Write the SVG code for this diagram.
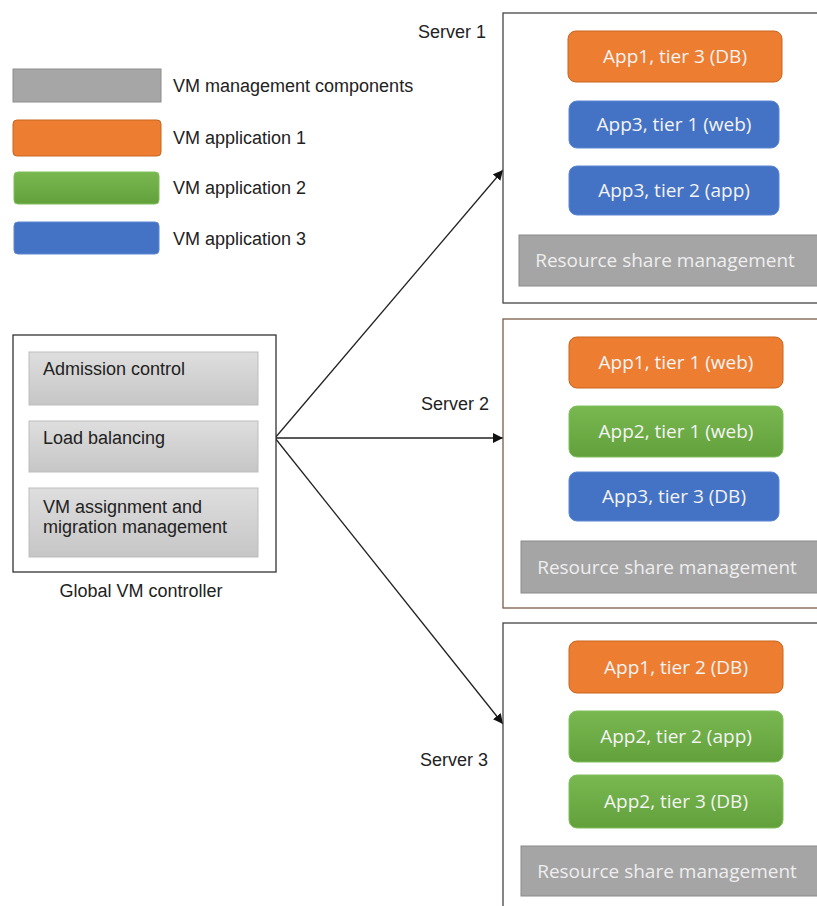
<svg xmlns="http://www.w3.org/2000/svg" width="817" height="906" viewBox="0 0 817 906">
  <style>
    .lbl { font-family: "Liberation Sans", Arial, sans-serif; font-size: 18px; fill: #222; }
    .app { font-family: "Open Sans", "Noto Sans", sans-serif; font-size: 19px; fill: #f4f4f4; text-anchor: middle; }
    .res { font-family: "Open Sans", "Noto Sans", sans-serif; font-size: 19px; fill: #eeeeee; text-anchor: middle; }
    .server { fill: #ffffff; stroke: #444444; stroke-width: 1.3; }
    .o { fill: #ed7d31; stroke: #c9641f; stroke-width: 1; }
    .b { fill: #4472c4; stroke: #5a86d2; stroke-width: 1; }
    .g { fill: url(#greenGrad); stroke: #7fbf5a; stroke-width: 1; }
    .gray { fill: #a5a5a5; stroke: #8a8a8a; stroke-width: 1; }
    .ctl { fill: url(#ctlGrad); stroke: #bdbdbd; stroke-width: 1; }
    .conn { stroke: #222; stroke-width: 1.3; fill: none; marker-end: url(#arrow); }
  </style>
  <defs>
    <linearGradient id="greenGrad" x1="0" y1="0" x2="0" y2="1">
      <stop offset="0" stop-color="#79b851"/>
      <stop offset="1" stop-color="#62a03b"/>
    </linearGradient>
    <linearGradient id="ctlGrad" x1="0" y1="0" x2="0" y2="1">
      <stop offset="0" stop-color="#dedede"/>
      <stop offset="1" stop-color="#c6c6c6"/>
    </linearGradient>
    <marker id="arrow" viewBox="0 0 10 10" refX="10" refY="5" markerWidth="10" markerHeight="10" markerUnits="userSpaceOnUse" orient="auto">
      <path d="M0,0 L10,5 L0,10 z" fill="#111"/>
    </marker>
  </defs>

  <rect width="817" height="906" fill="#ffffff"/>

  <!-- Legend -->
  <g id="legend">
    <rect x="13" y="69" width="148" height="33" fill="#a6a6a6" stroke="#8c8c8c"/>
    <text class="lbl" x="173" y="92">VM management components</text>
    <rect x="13" y="120" width="148" height="36" rx="4" class="o"/>
    <text class="lbl" x="173" y="144">VM application 1</text>
    <rect x="14" y="172" width="145" height="32" rx="4" class="g"/>
    <text class="lbl" x="173" y="194">VM application 2</text>
    <rect x="14" y="222" width="145" height="32" rx="4" class="b"/>
    <text class="lbl" x="173" y="245">VM application 3</text>
  </g>

  <!-- Connectors -->
  <g id="connectors">
    <line class="conn" x1="275" y1="438" x2="503" y2="170"/>
    <line class="conn" x1="275" y1="438" x2="503" y2="438"/>
    <line class="conn" x1="275" y1="438" x2="503" y2="724"/>
  </g>

  <!-- Global VM controller -->
  <g id="controller">
    <rect x="13" y="335" width="263" height="237" fill="#ffffff" stroke="#333" stroke-width="1.3"/>
    <rect x="29" y="352" width="229" height="53" class="ctl"/>
    <text class="lbl" x="43" y="375">Admission control</text>
    <rect x="29" y="421" width="229" height="51" class="ctl"/>
    <text class="lbl" x="43" y="444">Load balancing</text>
    <rect x="29" y="488" width="229" height="69" class="ctl"/>
    <text class="lbl" x="43" y="513">VM assignment and</text>
    <text class="lbl" x="43" y="533">migration management</text>
    <text class="lbl" x="141" y="597" text-anchor="middle">Global VM controller</text>
  </g>

  <!-- Server 1 -->
  <g id="server1">
    <text class="lbl" x="418" y="38">Server 1</text>
    <rect x="503" y="13" width="330" height="290" class="server"/>
    <rect x="568" y="31" width="214" height="51" rx="8" class="o"/>
    <text class="app" x="675" y="63">App1, tier 3 (DB)</text>
    <rect x="569" y="101" width="210" height="47" rx="8" class="b"/>
    <text class="app" x="674" y="131">App3, tier 1 (web)</text>
    <rect x="569" y="166" width="210" height="49" rx="8" class="b"/>
    <text class="app" x="674" y="197">App3, tier 2 (app)</text>
    <rect x="519" y="235" width="310" height="51" class="gray"/>
    <text class="res" x="665" y="267">Resource share management</text>
  </g>

  <!-- Server 2 -->
  <g id="server2">
    <text class="lbl" x="421" y="410">Server 2</text>
    <rect x="503" y="319" width="330" height="289" fill="#ffffff" stroke="#7b5c49" stroke-width="1.3"/>
    <rect x="569" y="337" width="214" height="51" rx="8" class="o"/>
    <text class="app" x="676" y="369">App1, tier 1 (web)</text>
    <rect x="569" y="406" width="214" height="51" rx="8" class="g"/>
    <text class="app" x="676" y="438">App2, tier 1 (web)</text>
    <rect x="569" y="472" width="210" height="49" rx="8" class="b"/>
    <text class="app" x="674" y="503">App3, tier 3 (DB)</text>
    <rect x="521" y="541" width="310" height="52" class="gray"/>
    <text class="res" x="667" y="573.5">Resource share management</text>
  </g>

  <!-- Server 3 -->
  <g id="server3">
    <text class="lbl" x="420" y="766">Server 3</text>
    <rect x="503" y="623" width="330" height="300" class="server"/>
    <rect x="569" y="641" width="214" height="52" rx="8" class="o"/>
    <text class="app" x="676" y="673.5">App1, tier 2 (DB)</text>
    <rect x="569" y="711" width="214" height="51" rx="8" class="g"/>
    <text class="app" x="676" y="743">App2, tier 2 (app)</text>
    <rect x="569" y="775" width="214" height="53" rx="8" class="g"/>
    <text class="app" x="676" y="808">App2, tier 3 (DB)</text>
    <rect x="521" y="846" width="310" height="50" class="gray"/>
    <text class="res" x="667" y="877.5">Resource share management</text>
  </g>
</svg>
